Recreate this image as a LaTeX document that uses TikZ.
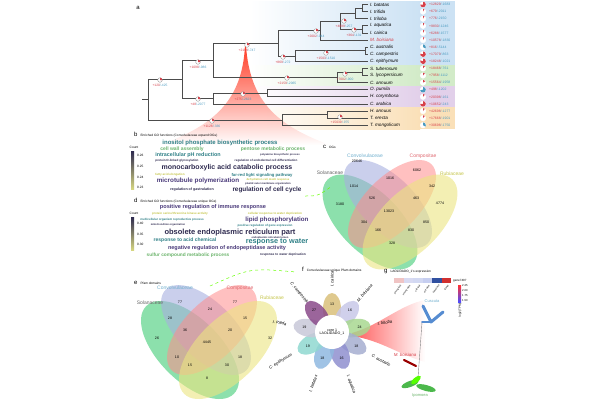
\documentclass[tikz,border=0pt]{standalone}
\usepackage{fontspec}
\setmainfont{Liberation Sans}
\usetikzlibrary{shapes.geometric,calc}
\definecolor{rd}{HTML}{D6404A}
\definecolor{bl}{HTML}{4A9AC0}
\definecolor{navy}{HTML}{2E2A4F}
\definecolor{tealc}{HTML}{2E7F86}
\definecolor{grn}{HTML}{6BB36B}
\definecolor{ylw}{HTML}{C4C44A}
\definecolor{pur}{HTML}{4A3A7A}
\definecolor{bandb}{HTML}{CCE2F4}
\definecolor{bandg}{HTML}{D2EBC8}
\definecolor{bandp}{HTML}{E2D0EA}
\definecolor{bando}{HTML}{FAE0B8}
\newcommand\fs[1]{\fontsize{#1}{#1}\selectfont}
\newcommand\wcl[5]{\node[font=\fs{#3}\bfseries,text=#4,inner sep=0] at (#1,#2) {#5};}
\newcommand\nlab[4]{\node[font=\fs{3.3},inner sep=0] at (#1,#2) {\textcolor{rd}{#3}\textcolor{bl}{/#4}};
  \draw[gray,fill=white,line width=.3pt] (#1,#2-5) circle (2.3);
  \fill[rd] (#1,#2-5) -- ++(-90:2.3) arc[start angle=-90,end angle=0,radius=2.3] -- cycle;}
\tikzset{br/.style={draw=black!70,line width=.8pt},
  tip/.style={font=\fs{4.6}\itshape,anchor=west,inner sep=0},
  vn/.style={font=\fs{3.6},inner sep=0},
  vl/.style={font=\fs{5},inner sep=0},
  tiny/.style={font=\fs{3.2},inner sep=0}}
\begin{document}
\begin{tikzpicture}[x=1pt,y=-1pt]
\useasboundingbox (0,0) rectangle (600,400);
% bands
\shade[left color=white,right color=bandb] (250,1) rectangle (420,65);
\fill[bandb] (420,1) rectangle (455,65);
\shade[left color=white,right color=bandg] (250,65) rectangle (420,86);
\fill[bandg] (420,65) rectangle (455,86);
\shade[left color=white,right color=bandp] (250,86) rectangle (420,107);
\fill[bandp] (420,86) rectangle (455,107);
\shade[left color=white,right color=bando] (250,107) rectangle (420,129);
\fill[bando] (420,107) rectangle (455,129);
\node[font=\fs{6}] (la) at (138,8) {a};
% cone
\shade[top color=red!80!orange,bottom color=white,opacity=.85] (245,46) .. controls (242,100) and (215,125) .. (160,145) -- (330,145) .. controls (275,125) and (250,100) .. (246,46) -- cycle;
% tree
\foreach \x/\a/\b in {362/4.5/11.6, 355/8.05/18.7, 362/25.8/32.9, 340/13.4/29.35, 320/21.4/40, 365/47.1/54.2, 295/50.65/61.3, 278/30.7/56, 362/68.4/75.5, 337/71.95/82.6, 213/43.35/77.3, 267/89.7/96.8, 213/93.25/103.9, 182/60.3/98.6, 327/111/118.1, 282/114.55/125.2, 148/79.45/119.9}
  \draw[br] (\x,\a) -- (\x,\b);
\foreach \a/\b/\y in {362/368/4.5, 362/368/11.6, 355/362/8.05, 355/368/18.7, 362/368/25.8, 362/368/32.9, 340/355/13.4, 340/362/29.35, 320/340/21.4, 320/368/40, 365/368/47.1, 365/368/54.2, 295/365/50.65, 295/368/61.3, 278/320/30.7, 278/295/56, 362/368/68.4, 362/368/75.5, 337/362/71.95, 337/368/82.6, 213/278/43.35, 213/337/77.3, 267/368/89.7, 267/368/96.8, 213/267/93.25, 213/368/103.9, 182/213/60.3, 182/213/98.6, 327/368/111, 327/368/118.1, 282/327/114.55, 282/368/125.2, 148/182/79.45, 148/282/119.9, 142/148/99.7}
  \draw[br] (\a,\y) -- (\b,\y);
% tips
\foreach \i/\n/\c/\r/\m/\f/\pc in {0/I. batatas/black/12829/1683/270/rd, 1/I. trifida/black/679/2011/30/rd, 2/I. triloba/black/776/2150/30/rd, 3/I. aquatica/black/9830/1246/30/rd, 4/I. cairica/black/6288/1577/30/rd, 5/M. boisiana/rd/10578/1830/30/rd, 6/C. australis/black/816/5144/120/bl, 7/C. campestris/black/17079/863/280/rd, 8/C. epithymum/black/18248/1021/290/rd, 9/S. tuberosum/black/18468/761/40/rd, 10/S. lycopersicum/black/7958/1112/40/rd, 11/C. annuum/black/15564/1958/60/rd, 12/O. pumila/black/498/1202/260/bl, 13/H. corymbosa/black/20398/161/40/rd, 14/C. arabica/black/10652/243/270/rd, 15/H. annuus/black/42698/1277/40/rd, 16/T. erecta/black/17668/1901/40/rd, 17/T. mongolicum/black/30698/1750/120/bl}{
  \pgfmathsetmacro\yy{4.5+7.1*\i}
  \node[tip,text=\c] (t\i) at (370,\yy) {\n};
  \draw[white,fill=white] (423,\yy) circle (2.8);
  \fill[\pc] (423,\yy) -- ++(-90:2.8) arc[start angle=-90,end angle=-90+\f,radius=2.8] -- cycle;
  \node[font=\fs{3.4},anchor=west,inner sep=0] at (429,\yy) {\textcolor{rd}{+\r}\textcolor{bl}{/-\m}};
}
\nlab{160}{85}{+120}{-425}
\nlab{198}{67}{+1098}{-986}
\nlab{247}{50}{+2159}{-747}
\nlab{316}{36}{+2002}{-944}
\nlab{283}{62}{+869}{-272}
\nlab{326}{58}{+1503}{-1510}
\nlab{287}{83}{+2159}{-2065}
\nlab{345}{79}{+7002}{-900}
\nlab{198}{104}{+48}{-2077}
\nlab{243}{99}{+275}{-2623}
\nlab{212}{126}{+1128}{-336}
\nlab{340}{122}{+15039}{-975}
\nlab{344}{26}{+4899}{-257}
\nlab{354}{35}{+364}{-131}
% panel b
\node[font=\fs{4},anchor=west,inner sep=0] (lb) at (134,135) {\fs{6}b\enspace\fs{3.2}Enriched GO functions (Convolvulaceae expand OGs)};
\node[tiny] at (134,147) {Count};
\shade[top color=navy,bottom color=ylw!70!white] (131,151) rectangle (134,189);
\foreach \v/\y in {0.26/155,0.25/166,0.24/177,0.23/187} \node[tiny,anchor=west] at (137,\y) {\v};
\wcl{220}{143}{6}{tealc}{inositol phosphate biosynthetic process}
\wcl{182}{149.5}{5}{grn}{cell wall assembly}
\wcl{273}{149.5}{5}{grn}{pentose metabolic process}
\wcl{188}{155.5}{5.4}{tealc}{intracellular pH reduction}
\wcl{280}{155}{2.6}{navy}{polyamine biosynthetic process}
\wcl{177}{160.5}{3}{navy}{protein O-linked glycosylation}
\wcl{266}{160.5}{3}{navy}{regulation of endodermal cell differentiation}
\wcl{227}{168}{7}{navy}{monocarboxylic acid catabolic process}
\wcl{170}{175}{3}{ylw}{fatty acid elongation}
\wcl{262}{175}{4.2}{tealc}{far-red light signaling pathway}
\wcl{198}{181}{6.3}{pur}{microtubule polymerization}
\wcl{268}{179.5}{2.8}{ylw}{dehydration cell death response}
\wcl{268}{183.5}{2.6}{navy}{plastid outer membrane organization}
\wcl{192}{190}{3.6}{navy}{regulation of gastrulation}
\wcl{267}{190}{6.4}{navy}{regulation of cell cycle}
% panel d
\node[font=\fs{4},anchor=west,inner sep=0] (ld) at (134,201) {\fs{6}d\enspace\fs{3.2}Enriched GO functions (Convolvulaceae unique OGs)};
\node[tiny] at (134,213) {Count};
\shade[top color=navy,bottom color=ylw!70!white] (131,217) rectangle (134,250);
\foreach \v/\y in {0.40/223,0.35/234,0.30/244} \node[tiny,anchor=west] at (137,\y) {\v};
\wcl{213}{207.5}{5.6}{pur}{positive regulation of immune response}
\wcl{180}{213.5}{3}{ylw}{protein serine/threonine kinase activity}
\wcl{275}{213.5}{3}{ylw}{cellular response to water deprivation}
\wcl{172}{220}{3}{tealc}{multicellular organism reproductive process}
\wcl{277}{220}{6.2}{pur}{lipid phosphorylation}
\wcl{168}{225}{2.6}{navy}{mitochondrion organization}
\wcl{265}{226}{3}{tealc}{positive regulation of gene expression}
\wcl{230}{232.5}{7.5}{navy}{obsolete endoplasmic reticulum part}
\wcl{270}{238}{2.6}{navy}{endoplasmic reticulum lumen}
\wcl{185}{240}{5}{tealc}{response to acid chemical}
\wcl{277}{242}{7.3}{tealc}{response to water}
\wcl{227}{248.5}{5.5}{pur}{negative regulation of endopeptidase activity}
\wcl{188}{255}{4.8}{grn}{sulfur compound metabolic process}
\wcl{283}{255}{3.2}{navy}{response to water deprivation}
% panel c venn
\node[font=\fs{4},anchor=west,inner sep=0] (lc) at (323,147) {\fs{6}c\enspace\fs{3.2}OGs};
\fill[green!45!teal!60!white,opacity=.75,rotate around={-45:(370,222)}] (370,222) ellipse (60 and 30);
\fill[cyan!30!blue!35!white,opacity=.6,rotate around={-45:(388,204)}] (388,204) ellipse (56 and 27);
\fill[red!45!white,opacity=.55,rotate around={45:(392,204)}] (392,204) ellipse (56 and 27);
\fill[yellow!60!olive!45!white,opacity=.6,rotate around={45:(410,222)}] (410,222) ellipse (60 and 30);
\node[vl,text=black!60] at (330,173) {Solanaceae};
\node[vl,text=bl!80] at (365,156) {Convolvulaceae};
\node[vl,text=rd!80] at (423,156) {Compositae};
\node[vl,text=ylw] at (452,174) {Rubiaceae};
\foreach \x/\y/\t in {357/161/20646,417/170/6062,440/203/4774,340/204/3180,354/186/1014,390/178/1016,432/186/342,372/198/526,416/198/463,389/211/13023,364/222/304,426/222/850,378/230/166,411/230/830,392/243/328}
  \node[vn] at (\x,\y) {\t};
% dashed links
\draw[dashed,green!60!yellow,line width=.5pt] (305,196) .. controls (318,196) .. (332,186);
\draw[dashed,green!60!yellow,line width=.5pt] (210,286) .. controls (250,268) .. (296,272);
% panel e venn
\node[font=\fs{4},anchor=west,inner sep=0] (le) at (134,283) {\fs{6}e\enspace\fs{3.2}Pfam domains};
\fill[green!45!teal!60!white,opacity=.75,rotate around={-45:(190,350)}] (190,350) ellipse (62 and 31);
\fill[cyan!30!blue!35!white,opacity=.6,rotate around={-45:(206,330)}] (206,330) ellipse (57 and 28);
\fill[red!45!white,opacity=.55,rotate around={45:(212,330)}] (212,330) ellipse (57 and 28);
\fill[yellow!60!olive!45!white,opacity=.6,rotate around={45:(228,350)}] (228,350) ellipse (62 and 31);
\node[vl,text=bl!80] at (175,288) {Convolvulaceae};
\node[vl,text=rd!80] at (240,288) {Compositae};
\node[vl,text=ylw] at (272,298) {Rubiaceae};
\node[vl,text=black!60] at (150,303) {Solanaceae};
\foreach \x/\y/\t in {180/302/77,235/302/77,210/309/24,245/318/15,270/338/32,157/338/26,170/318/28,185/330/36,230/330/20,207/342/4445,177/357/10,240/357/18,190/365/15,227/365/30,207/378/8}
  \node[vn] at (\x,\y) {\t};
% panel f flower
\node[font=\fs{4},anchor=west,inner sep=0] (lf) at (302,270) {\fs{6}f\enspace\fs{3.2}Convolvulaceae unique Pfam domains};
\shade[left color=red!75,right color=white,opacity=.85] (352,333) .. controls (380,325) and (400,305) .. (425,300) -- (425,362) .. controls (400,355) and (380,340) .. (352,336) -- cycle;
\foreach \a/\c/\n in {-90/D9C07A/13,-50/C8C8E8/16,-10/A8D890/24,30/A6AED0/18,70/8F8FCF/16,110/8FB8E0/18,150/8FD8D0/19,190/C8C8D8/19,230/8A4A8A/27}{
  \definecolor{pc}{HTML}{\c}
  \fill[pc,opacity=.85,rotate around={-\a:(332,332)}] (355,332) ellipse (16 and 9);
  \node[vn] at ([shift={(\a:28)}]332,332) {\n};
}
\node[circle,fill=white,minimum size=34pt,inner sep=0,font=\fs{3.6},align=center] (core) at (332,332) {core 1\\LAOLIDADO\_1};
\foreach \a/\an/\r/\n/\d in {-90/west/90/I. cairica/45,-50/west/50/M. boisiana/40,-10/west/10/I. triloba/46,30/west/-30/C. australis/46,70/west/-70/I. aquatica/46,110/east/70/I. batatas/46,150/east/30/C. epithymum/46,190/east/-10/I. trifida/46,230/east/-50/C. campestris/38}
  \node[font=\fs{4.2}\itshape,anchor=\an,rotate=\r,inner sep=0] at ([shift={(\a:\d)}]332,332) {\n};
% panel g
\node[font=\fs{4},anchor=west,inner sep=0] (lg) at (384,272) {\fs{6}g\enspace\fs{3.2}LAOLIDADO\_1's expression};
\foreach \i/\c in {0/F0C4C4,1/D8DAF2,2/D2D8F2,3/C6CEF0,4/3050A0,5/D03030}{
  \definecolor{hc}{HTML}{\c}
  \fill[hc] (394+9.5*\i,278) rectangle (403.5+9.5*\i,283);
}
\node[font=\fs{3},anchor=west,inner sep=0] at (453,280.5) {gene7407};
\foreach \i/\t in {0/young leaf,1/young stem,2/old leaf,3/old stem,4/haustoria,5/flower}
  \node[font=\fs{2.4},anchor=east,rotate=55,inner sep=0] at (401+9.5*\i,285) {\t};
\shade[top color=red!80,bottom color=blue!70] (458,285) rectangle (461,302);
\foreach \v/\y in {2.25/286,2.00/291,1.75/296,1.50/301} \node[font=\fs{2.8},anchor=west,inner sep=0] at (462,\y) {\v};
\node[font=\fs{3},rotate=90,inner sep=0] at (460,310) {log2(TPM)};
\draw[gray,line width=.4pt] (422,322) -- (418,378);
\draw[cyan!50!blue!70,line width=3pt,line cap=round,line join=round] (423,306) -- (431,322) -- (443,312);
\draw[cyan!50!blue!70,line width=2pt,line cap=round] (431,322) -- (422,322);
\node[font=\fs{4},text=bl!80,inner sep=0] at (432,301) {Cuscuta};
\node[font=\fs{4.4}\itshape,text=rd,inner sep=0] at (405,355) {M. boisiana};
\draw[red!60!black,line width=2.2pt,line cap=round] (404,360) -- (416,366);
\fill[green!60!black!70,rotate around={20:(410,384)}] (410,384) ellipse (9 and 3);
\fill[green!60!black!70,rotate around={-15:(426,388)}] (426,388) ellipse (10 and 3);
\fill[green!55!lime,rotate around={40:(416,380)}] (416,380) ellipse (6 and 2.5);
\node[font=\fs{4},text=grn,inner sep=0] at (420,396) {Ipomoea};
\end{tikzpicture}
\end{document}
